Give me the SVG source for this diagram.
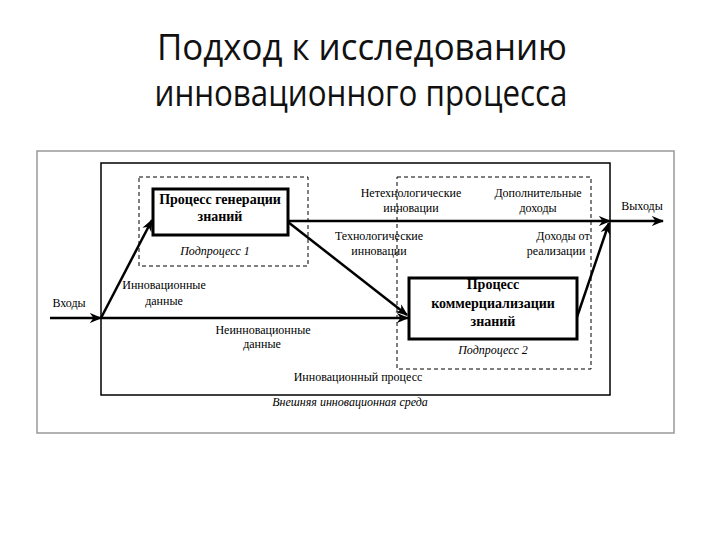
<svg xmlns="http://www.w3.org/2000/svg" width="720" height="540" viewBox="0 0 720 540">
<defs>
<marker id="ah" viewBox="0 0 10 10" refX="9" refY="5" markerWidth="5" markerHeight="5" orient="auto" markerUnits="strokeWidth">
<path d="M0,1 L10,5 L0,9 L3,5 Z" fill="#000"/>
</marker>
<style>
.title{font-family:"Open Sans","Liberation Sans",sans-serif;font-size:37px;fill:#111;text-anchor:middle}
.t{font-family:"Liberation Serif","DejaVu Serif",serif;font-size:12px;fill:#000;text-anchor:middle}
.b{font-family:"Liberation Serif","DejaVu Serif",serif;font-size:14px;font-weight:bold;fill:#000;text-anchor:middle}
.i{font-family:"Liberation Serif","DejaVu Serif",serif;font-size:12px;font-style:italic;fill:#000;text-anchor:middle}
.box{fill:#fff;stroke:#000;stroke-width:3}
.dash{fill:none;stroke:#000;stroke-width:1;stroke-dasharray:4,3}
.con{fill:none;stroke:#000;stroke-width:2.5;marker-end:url(#ah)}
</style>
</defs>
<rect width="720" height="540" fill="#fff"/>
<g id="title">
<text class="title" x="362" y="60" textLength="410" lengthAdjust="spacingAndGlyphs">Подход к исследованию</text>
<text class="title" x="361" y="106" textLength="413" lengthAdjust="spacingAndGlyphs">инновационного процесса</text>
</g>
<g id="environment">
<rect x="37" y="151" width="637" height="282" fill="none" stroke="#999" stroke-width="1.5"/>
<text class="i" x="350" y="406">Внешняя инновационная среда</text>
</g>
<g id="innovation-process">
<rect x="101" y="163" width="509" height="232" fill="none" stroke="#000" stroke-width="1.5"/>
<text class="t" x="358" y="381">Инновационный процесс</text>
</g>
<g id="subprocess1">
<rect class="dash" x="139" y="177" width="169" height="89"/>
<text class="i" x="215" y="255">Подпроцесс 1</text>
</g>
<g id="subprocess2">
<rect class="dash" x="397" y="177" width="194" height="192"/>
<text class="i" x="493" y="354">Подпроцесс 2</text>
</g>
<g id="knowledge-generation">
<rect class="box" x="153" y="189" width="135" height="46"/>
<text class="b" x="220" y="204">Процесс генерации</text>
<text class="b" x="220" y="221">знаний</text>
</g>
<g id="commercialization">
<rect class="box" x="409" y="278" width="168" height="61"/>
<text class="b" x="493" y="289">Процесс</text>
<text class="b" x="493" y="308">коммерциализации</text>
<text class="b" x="493" y="326">знаний</text>
</g>
<g id="connectors">
<line class="con" x1="50" y1="318" x2="101" y2="318"/>
<line class="con" x1="101" y1="318" x2="408" y2="318"/>
<line class="con" x1="101" y1="318" x2="152" y2="220"/>
<line class="con" x1="288" y1="221" x2="610" y2="221"/>
<line class="con" x1="610" y1="221" x2="663" y2="221"/>
<line class="con" x1="288" y1="222" x2="407" y2="315"/>
<line class="con" x1="577" y1="317" x2="609" y2="223"/>
</g>
<g id="labels">
<text class="t" x="69" y="307">Входы</text>
<text class="t" x="164" y="289">Инновационные</text>
<text class="t" x="164" y="305">данные</text>
<text class="t" x="263" y="334">Неинновационные</text>
<text class="t" x="262" y="348">данные</text>
<text class="t" x="411" y="197">Нетехнологические</text>
<text class="t" x="411" y="212">инновации</text>
<text class="t" x="379" y="240">Технологические</text>
<text class="t" x="379" y="255">инновации</text>
<text class="t" x="538" y="197">Дополнительные</text>
<text class="t" x="538" y="212">доходы</text>
<text class="t" x="563" y="240">Доходы от</text>
<text class="t" x="556" y="255">реализации</text>
<text class="t" x="642" y="210">Выходы</text>
</g>
</svg>
